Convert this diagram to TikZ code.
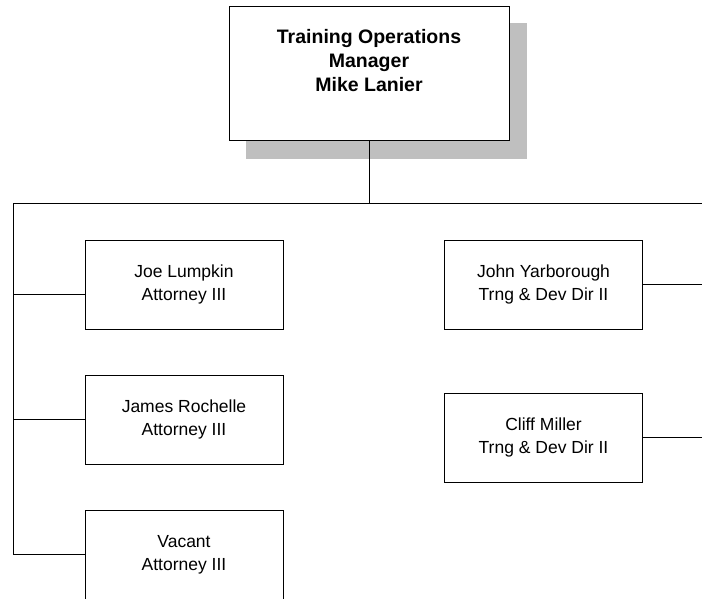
\documentclass[tikz,border=0pt]{standalone}
\usepackage{fontspec}
\setmainfont{Liberation Sans}
\usepackage{tikz}

\begin{document}
\begin{tikzpicture}[x=1pt, y=-1pt, line width=0.9pt,
    staffbox/.style={draw, rectangle, minimum width=198pt, minimum height=89pt, align=center, font=\fontsize{17.5}{23}\selectfont},
    headbox/.style={draw, rectangle, fill=white, minimum width=280pt, minimum height=134pt},
    headtext/.style={align=center, font=\bfseries\fontsize{19.5}{24}\selectfont}]
    \useasboundingbox (0,0) rectangle (702,598);

    % Manager
    \node[fill=black!25, rectangle, inner sep=0pt, minimum width=281pt, minimum height=136pt] (shadow) at (386.5,91) {};
    \node[headbox] (mgr) at (369,73) {};
    \node[headtext] (mgrtext) at ([yshift=12pt]mgr.center) {Training Operations\\Manager\\Mike Lanier};

    % Bus
    \coordinate (busL) at (13,203);
    \coordinate (busR) at (702,203);
    \draw (mgr.south) -- (mgr.south |- busL);
    \draw (busL) -- (busR);

    % Attorneys
    \node[staffbox] (joe) at (184,284.5) {Joe Lumpkin\\Attorney III};
    \node[staffbox] (james) at (184,419.5) {James Rochelle\\Attorney III};
    \node[staffbox] (vacant) at (184,554.5) {Vacant\\Attorney III};

    \coordinate (joeIn) at ([yshift=-9.5pt]joe.west);
    \draw (busL) -- (busL |- vacant.west) -- (vacant.west);
    \draw (joeIn -| busL) -- (joeIn);
    \draw (busL |- james.west) -- (james.west);

    % Directors
    \node[staffbox] (john) at (543.5,284.5) {John Yarborough\\Trng \& Dev Dir II};
    \node[staffbox] (cliff) at (543.5,437.5) {Cliff Miller\\Trng \& Dev Dir II};

    \draw (john.east) -- (john.east -| busR);
    \draw (cliff.east) -- (cliff.east -| busR);
\end{tikzpicture}
\end{document}
